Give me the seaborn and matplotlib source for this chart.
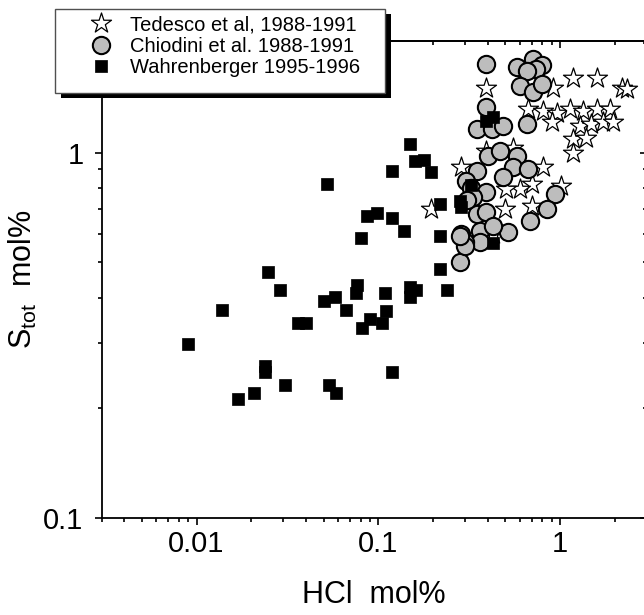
import numpy as np
import matplotlib
matplotlib.use('Agg')
import matplotlib.pyplot as plt
import seaborn as sns
from matplotlib.ticker import LogLocator, FuncFormatter, NullFormatter
from matplotlib.patches import Rectangle

# ---------------- data ----------------
ted_label = "Tedesco et al, 1988-1991"
ted_hcl = [0.394, 1.18, 1.59, 2.19, 2.33, 0.918,
           0.668, 0.810, 0.959, 1.135, 1.343, 1.59, 1.887,
           0.90, 1.29, 1.49, 1.73, 1.97,
           1.18, 1.40, 1.18,
           0.287, 0.810, 1.02, 0.698, 0.602, 0.508,
           0.394, 0.196, 0.497, 0.698, 0.43, 0.553]
ted_s = [1.505, 1.60, 1.60, 1.505, 1.49, 1.505,
         1.314, 1.30, 1.286, 1.314, 1.30, 1.314, 1.314,
         1.21, 1.18, 1.20, 1.21, 1.21,
         1.088, 1.099, 1.0,
         0.91, 0.91, 0.811, 0.82, 0.794, 0.794,
         1.01, 0.70, 0.70, 0.715, 0.598, 1.03]

chio_label = "Chiodini et al. 1988-1991"
chio_hcl = [0.394, 0.577, 0.713, 0.793, 0.743, 0.655, 0.602, 0.713, 0.793, 0.390,
            0.348, 0.421, 0.488, 0.655, 0.403, 0.467, 0.577, 0.553, 0.668, 0.348,
            0.488, 0.306, 0.326, 0.394, 0.333, 0.938, 0.845, 0.684, 0.348, 0.394,
            0.362, 0.287, 0.519, 0.362, 0.300, 0.281, 0.300, 0.281, 0.31, 0.43]
chio_s = [1.75, 1.71, 1.80, 1.74, 1.69, 1.67, 1.52, 1.46, 1.54, 1.33,
          1.16, 1.16, 1.18, 1.20, 0.98, 1.01, 0.98, 0.91, 0.90, 0.891,
          0.855, 0.837, 0.802, 0.778, 0.754, 0.769, 0.700, 0.651, 0.679, 0.686,
          0.611, 0.598, 0.604, 0.568, 0.568, 0.500, 0.556, 0.592, 0.74, 0.63]

wahr_label = "Wahrenberger 1995-1996"
wahr_hcl = [0.119, 0.0523, 0.0867, 0.0991, 0.119, 0.0807, 0.0247, 0.0287, 0.0139, 0.00896,
            0.0361, 0.0402, 0.0502, 0.0575, 0.0668, 0.0768, 0.0751, 0.109, 0.110, 0.0897,
            0.105, 0.0815, 0.119, 0.0239, 0.0239, 0.0308, 0.0207, 0.0169, 0.0536, 0.0589,
            0.149, 0.159, 0.178, 0.194, 0.139, 0.218, 0.218, 0.218, 0.326, 0.281,
            0.287, 0.394, 0.430, 0.430, 0.238, 0.149, 0.149, 0.161]
wahr_s = [0.891, 0.820, 0.671, 0.681, 0.662, 0.582, 0.470, 0.421, 0.371, 0.299,
          0.341, 0.341, 0.391, 0.402, 0.371, 0.434, 0.412, 0.412, 0.368, 0.351,
          0.341, 0.331, 0.251, 0.261, 0.251, 0.231, 0.220, 0.211, 0.231, 0.220,
          1.054, 0.945, 0.953, 0.882, 0.611, 0.723, 0.592, 0.480, 0.816, 0.738,
          0.708, 1.22, 1.25, 0.564, 0.421, 0.428, 0.403, 0.421]

x_label = "HCl  mol%"
y_label = r"S$_\mathrm{tot}$  mol%"

# ---------------- style ----------------
sns.set_theme(style="white")
plt.rcParams['font.family'] = ['Liberation Sans', 'DejaVu Sans']
plt.rcParams['mathtext.fontset'] = 'custom'
plt.rcParams['mathtext.rm'] = 'Liberation Sans'
plt.rcParams['mathtext.it'] = 'Liberation Sans:italic'
plt.rcParams['mathtext.bf'] = 'Liberation Sans:bold'

W, H = 644, 615
fig = plt.figure(figsize=(W / 100, H / 100), dpi=100)
fig.patch.set_facecolor('white')
ax = fig.add_axes([101.5 / W, (H - 517.7) / H, (646.6 - 101.5) / W, (517.7 - 41) / H])
ax.set_facecolor('white')

sns.scatterplot(x=ted_hcl, y=ted_s, marker='*', s=230, color='white',
                edgecolor='black', linewidth=0.9, ax=ax, label=ted_label, zorder=3)
sns.scatterplot(x=chio_hcl, y=chio_s, marker='o', s=155, color='#bdbdbd',
                edgecolor='black', linewidth=1.5, ax=ax, label=chio_label, zorder=3)
sns.scatterplot(x=wahr_hcl, y=wahr_s, marker='s', s=72, color='black',
                edgecolor='black', linewidth=0.5, ax=ax, label=wahr_label, zorder=4)

ax.set_xscale('log')
ax.set_yscale('log')
ax.set_xlim(0.003, 3)
ax.set_ylim(0.1, 2.02)

fmt = FuncFormatter(lambda v, p: f"{v:g}")
for axis in (ax.xaxis, ax.yaxis):
    axis.set_major_locator(LogLocator(base=10, numticks=20))
    axis.set_minor_locator(LogLocator(base=10, subs=np.arange(2, 10), numticks=20))
    axis.set_major_formatter(fmt)
    axis.set_minor_formatter(NullFormatter())

for sp in ax.spines.values():
    sp.set_color('black')
    sp.set_linewidth(1.3)

ax.tick_params(which='both', direction='out', color='black', width=1.2,
               labelsize=21, labelcolor='black', top=False, right=False,
               bottom=True, left=True)
ax.tick_params(which='major', length=5)
ax.tick_params(which='minor', length=3)
ax.tick_params(axis='y', which='major', pad=8)
ax.tick_params(axis='x', which='major', pad=4)

# mirrored inward ticks on top and right
secx = ax.secondary_xaxis('top')
secy = ax.secondary_yaxis('right')
for sec, axis in ((secx, secx.xaxis), (secy, secy.yaxis)):
    axis.set_major_locator(LogLocator(base=10, numticks=20))
    axis.set_minor_locator(LogLocator(base=10, subs=np.arange(2, 10), numticks=20))
    axis.set_major_formatter(NullFormatter())
    axis.set_minor_formatter(NullFormatter())
    sec.tick_params(which='both', direction='in', color='black', width=1.2)
    sec.tick_params(which='major', length=5)
    sec.tick_params(which='minor', length=3)
    for sp in sec.spines.values():
        sp.set_color('black')
        sp.set_linewidth(1.3)

ax.set_xlabel(x_label, fontsize=22, labelpad=16, color='black')
ax.set_ylabel(y_label, fontsize=22, labelpad=3, color='black')

# legend with shadowed box
handles, labels = ax.get_legend_handles_labels()
if ax.get_legend() is not None:
    ax.get_legend().remove()

shadow = Rectangle((61 / W, (H - 98) / H), 330 / W, 84 / H, transform=fig.transFigure,
                   facecolor='black', edgecolor='none', zorder=4)
box = Rectangle((55 / W, (H - 93) / H), 330 / W, 84 / H, transform=fig.transFigure,
                facecolor='white', edgecolor='#505050', linewidth=1.0, zorder=4.5)
fig.add_artist(shadow)
fig.add_artist(box)

leg = fig.legend(handles, labels, loc='upper left',
                 bbox_to_anchor=(81 / W, (H - 15.5) / H), bbox_transform=fig.transFigure,
                 frameon=False, fontsize=14.5, handlelength=2.0, handletextpad=0.45,
                 labelspacing=0.12, borderpad=0, borderaxespad=0,
                 scatterpoints=1, scatteryoffsets=[0.5])
leg.set_zorder(5)
for t in leg.get_texts():
    t.set_color('black')

fig.savefig('out.png', dpi=100)
